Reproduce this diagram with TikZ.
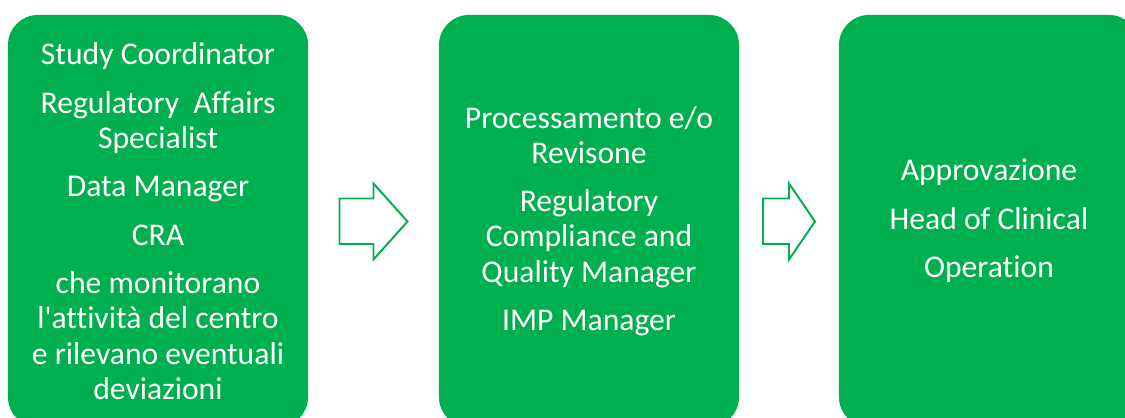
\documentclass[tikz,border=0pt]{standalone}
\usepackage{fontspec}
\setmainfont{Carlito}[Ligatures=NoCommon]
\usetikzlibrary{calc}
\definecolor{boxgreen}{HTML}{00B050}
\tikzstyle{stage}=[fill=boxgreen, rounded corners = 0.75cm, minimum width = 7.5cm,
  minimum height = 10.3cm, text = white, align = center,
  font = \fontsize{22.5}{25}\selectfont]
\tikzstyle{flow}=[draw=boxgreen, fill=white, line width = 1.4pt, line join = miter]

\begin{document}
\begin{tikzpicture}[x = 0.025cm, y = -0.025cm]
\clip (0,0) rectangle (1125,417);
%
\draw (158,221) node[stage](sc){Study Coordinator\\[9.5pt]
  Regulatory\ \ Affairs\\Specialist\\[9.5pt]
  Data Manager\\[9.5pt]
  CRA\\[9.5pt]
  che monitorano\\l\textquotesingle attività del centro\\e rilevano eventuali\\deviazioni};
\draw (589,221) node[stage](pr){Processamento e/o\\Revisone\\[9.5pt]
  Regulatory\\Compliance and\\Quality Manager\\[9.5pt]
  IMP Manager};
\draw (989,221) node[stage](ap){Approvazione\\[9.5pt]
  Head of Clinical\\[9.5pt]
  Operation};
% Block arrows between the stages
\foreach \a/\b/\l in {sc/pr/34, pr/ap/26}{
  \coordinate (mid) at ($(\a.east)!0.5!(\b.west)$);
  \draw[flow] (mid) ++(-\l,-22.5) -- ++(\l,0) -- ++(0,-15) -- ++(\l,38)
    -- ++(-\l,38) -- ++(0,-15.5) -- ++(-\l,0) -- cycle;
}
\end{tikzpicture}
\end{document}
